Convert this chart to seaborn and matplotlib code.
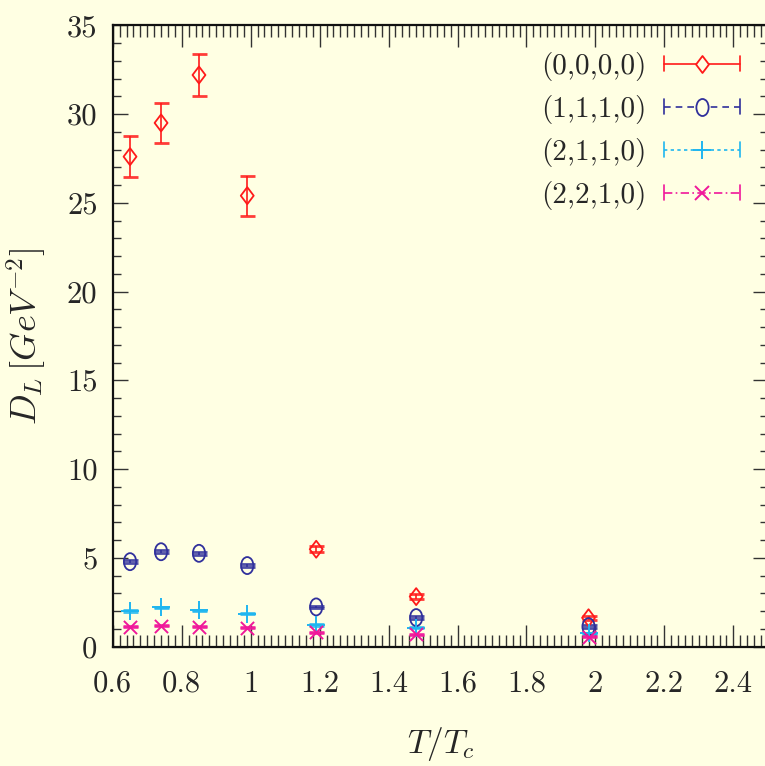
import numpy as np
import matplotlib
matplotlib.use("Agg")
import matplotlib.pyplot as plt
import seaborn as sns
from matplotlib.path import Path
from matplotlib.transforms import Affine2D
from matplotlib.lines import Line2D
from matplotlib.legend_handler import HandlerBase
from matplotlib.ticker import FixedLocator, FixedFormatter, MultipleLocator

# ---------------- data ----------------
temps = [0.65, 0.74, 0.85, 0.99, 1.19, 1.48, 1.98]

d_0000 = [27.6, 29.5, 32.2, 25.4, 5.48, 2.81, 1.62]
e_0000 = [1.15, 1.15, 1.2, 1.13, 0.18, 0.15, 0.12]

d_1110 = [4.78, 5.34, 5.25, 4.56, 2.23, 1.63, 1.12]
e_1110 = [0.10, 0.10, 0.10, 0.10, 0.08, 0.08, 0.07]

d_2110 = [2.00, 2.21, 2.04, 1.85, 1.21, 1.06, 0.74]
e_2110 = [0.04, 0.04, 0.04, 0.04, 0.04, 0.04, 0.04]

d_2210 = [1.12, 1.17, 1.12, 1.06, 0.80, 0.70, 0.55]
e_2210 = [0.03, 0.03, 0.03, 0.03, 0.03, 0.03, 0.03]

series_labels = ["(0,0,0,0)", "(1,1,1,0)", "(2,1,1,0)", "(2,2,1,0)"]

xtick_vals = [0.6, 0.8, 1.0, 1.2, 1.4, 1.6, 1.8, 2.0, 2.2, 2.4]
xtick_labels = ["0.6", "0.8", "1", "1.2", "1.4", "1.6", "1.8", "2", "2.2", "2.4"]
ytick_vals = [0, 5, 10, 15, 20, 25, 30, 35]
ytick_labels = ["0", "5", "10", "15", "20", "25", "30", "35"]

# ---------------- style ----------------
sns.set_theme(style="ticks")
plt.rcParams["font.family"] = ["cmr10", "DejaVu Serif"]
plt.rcParams["mathtext.fontset"] = "cm"
plt.rcParams["axes.unicode_minus"] = False
plt.rcParams["axes.formatter.use_mathtext"] = True

BG = "#FFFFE3"
TXT = "#262626"
RED = "#FF1A1A"
BLUE = "#30309C"
CYAN = "#1FB6F0"
MAG = "#F0179A"

diamond = Path([(0, 1), (0.76, 0), (0, -1), (-0.76, 0), (0, 1)],
               [Path.MOVETO, Path.LINETO, Path.LINETO, Path.LINETO, Path.CLOSEPOLY])
ellipse = Path.unit_circle().transformed(Affine2D().scale(0.72, 1.0))

styles = [
    dict(y=d_0000, e=e_0000, c=RED, m=diamond, s=150, filled=True, ls="-"),
    dict(y=d_1110, e=e_1110, c=BLUE, m=ellipse, s=150, filled=True, ls=(0, (4, 3))),
    dict(y=d_2110, e=e_2110, c=CYAN, m="+", s=170, filled=False, ls=(0, (2, 2))),
    dict(y=d_2210, e=e_2210, c=MAG, m="x", s=90, filled=False, ls=(0, (5, 2, 1, 2))),
]

fig = plt.figure(figsize=(7.65, 7.66), dpi=100, facecolor=BG)
W, H = 765, 766
ax = fig.add_axes([112.8 / W, (H - 646.5) / H, 655 / W, 621.2 / H])
ax.set_facecolor(BG)

for st in styles:
    ax.errorbar(temps, st["y"], yerr=st["e"], fmt="none", ecolor=st["c"],
                elinewidth=1.4, capsize=5.4, capthick=2.0, alpha=0.85, zorder=2)
    if st["filled"]:
        sns.scatterplot(x=temps, y=st["y"], ax=ax, marker=st["m"], s=st["s"],
                        facecolor="none", edgecolor=st["c"], linewidth=1.3,
                        legend=False, zorder=3)
    else:
        sns.scatterplot(x=temps, y=st["y"], ax=ax, marker=st["m"], s=st["s"],
                        color=st["c"], linewidth=1.4, legend=False, zorder=3)

ax.set_xlim(0.6, 2.5)
ax.set_ylim(0, 35)
ax.xaxis.set_major_locator(FixedLocator(xtick_vals))
ax.xaxis.set_major_formatter(FixedFormatter(xtick_labels))
ax.xaxis.set_minor_locator(MultipleLocator(0.02))
ax.yaxis.set_major_locator(FixedLocator(ytick_vals))
ax.yaxis.set_major_formatter(FixedFormatter(ytick_labels))
ax.yaxis.set_minor_locator(MultipleLocator(1))

ax.tick_params(which="both", direction="in", top=True, right=True,
               color="#333333", labelcolor=TXT, labelsize=22)
ax.tick_params(axis="x", which="major", length=15.8, width=1.0, pad=17)
ax.tick_params(axis="x", which="minor", length=8.3, width=1.0)
ax.tick_params(axis="y", which="major", length=10.8, width=1.0, pad=11)
ax.tick_params(axis="y", which="minor", length=5.8, width=1.0)
for sp in ax.spines.values():
    sp.set_color("#111111")
    sp.set_linewidth(1.6)

ax.set_xlabel(r"$T/T_c$", fontsize=24, color=TXT, labelpad=20)
ax.set_ylabel(r"$D_L\,[GeV^{-2}]$", fontsize=26, color=TXT, labelpad=13)


# ---------------- legend with gnuplot-like errorbar samples ----------------
class Entry:
    def __init__(self, color, marker, size, ls, filled):
        self.color, self.marker, self.size, self.ls, self.filled = color, marker, size, ls, filled


class CapHandler(HandlerBase):
    def create_artists(self, legend, h, xdescent, ydescent, width, height, fontsize, trans):
        x0, x1 = -xdescent, -xdescent + width
        yc = (height - ydescent) / 2
        cap = 5.4
        line = Line2D([x0, x1], [yc, yc], color=h.color, lw=1.2, linestyle=h.ls)
        c0 = Line2D([x0, x0], [yc - cap, yc + cap], color=h.color, lw=1.2)
        c1 = Line2D([x1, x1], [yc - cap, yc + cap], color=h.color, lw=1.2)
        ms = np.sqrt(h.size)
        if h.filled:
            mk = Line2D([(x0 + x1) / 2], [yc], marker=h.marker, markersize=ms,
                        markerfacecolor=BG, markeredgecolor=h.color, markeredgewidth=1.3,
                        linestyle="none")
        else:
            mk = Line2D([(x0 + x1) / 2], [yc], marker=h.marker, markersize=ms,
                        color=h.color, markeredgewidth=1.4, linestyle="none")
        arts = [line, c0, c1, mk]
        for a in arts:
            a.set_transform(trans)
        return arts


entries = [Entry(st["c"], st["m"], st["s"], st["ls"], st["filled"]) for st in styles]
leg = ax.legend(entries, series_labels, handler_map={Entry: CapHandler()},
                loc="upper right", bbox_to_anchor=(740 / W, 1 - 52 / H),
                bbox_transform=fig.transFigure, frameon=False, markerfirst=False,
                fontsize=21, handlelength=2.6, handletextpad=0.6,
                labelspacing=0.48, borderpad=0, borderaxespad=0)
for t in leg.get_texts():
    t.set_color(TXT)

fig.savefig("out.png", dpi=100, facecolor=BG)
